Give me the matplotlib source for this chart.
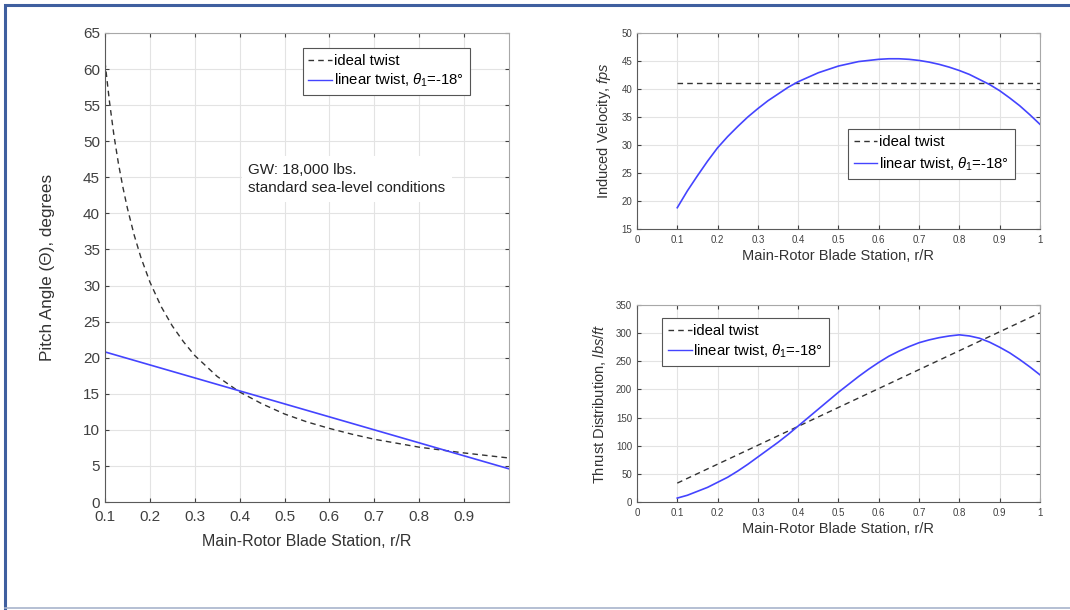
import matplotlib
matplotlib.use("Agg")
import matplotlib.pyplot as plt
from matplotlib.lines import Line2D
from matplotlib.patches import Rectangle

plt.rcParams['font.family'] = ['Liberation Sans', 'DejaVu Sans']
plt.rcParams['mathtext.fontset'] = 'custom'
plt.rcParams['mathtext.rm'] = 'Liberation Sans'
plt.rcParams['mathtext.it'] = 'Liberation Sans:italic'

# blade pitch vs. radial station
pitch_r = [0.1, 0.11, 0.12, 0.13, 0.14, 0.15, 0.165, 0.18, 0.2, 0.225, 0.25, 0.275,
           0.3, 0.35, 0.4, 0.45, 0.5, 0.55, 0.6, 0.65, 0.7, 0.8, 0.9, 1.0]
pitch_ideal = [61.0, 55.5, 50.8, 46.9, 43.6, 40.7, 37.0, 33.9, 30.5, 27.1, 24.4, 22.2,
               20.3, 17.4, 15.25, 13.6, 12.2, 11.1, 10.2, 9.4, 8.7, 7.6, 6.8, 6.1]
pitch_lin_r = [0.1, 1.0]
pitch_lin = [20.8, 4.6]

# induced velocity
vel_r = [0.1, 0.125, 0.15, 0.175, 0.2, 0.225, 0.25, 0.275, 0.3, 0.325, 0.35, 0.375,
         0.4, 0.425, 0.45, 0.475, 0.5, 0.525, 0.55, 0.575, 0.6, 0.625, 0.65, 0.675,
         0.7, 0.725, 0.75, 0.775, 0.8, 0.825, 0.85, 0.875, 0.9, 0.925, 0.95, 0.975, 1.0]
vel_lin = [18.8, 21.8, 24.5, 27.1, 29.5, 31.5, 33.3, 35.0, 36.5, 37.9, 39.1, 40.3,
           41.3, 42.1, 42.9, 43.5, 44.1, 44.5, 44.9, 45.1, 45.3, 45.4, 45.4, 45.3,
           45.1, 44.8, 44.4, 43.9, 43.3, 42.6, 41.7, 40.8, 39.7, 38.4, 37.0, 35.4, 33.7]
vel_ideal_r = [0.1, 1.0]
vel_ideal = [41.0, 41.0]

# thrust distribution
thr_r = vel_r
thr_lin = [7, 12, 19, 26, 35, 44, 55, 67, 80, 93, 106, 120,
           135, 150, 165, 180, 195, 209, 223, 236, 248, 259, 268, 276,
           283, 288, 292, 295, 297, 295, 291, 284, 275, 265, 253, 240, 226]
thr_ideal_r = [0.1, 1.0]
thr_ideal = [33.6, 336.0]

lin_label = r'linear twist, $\theta_1$=-18°'
ideal_color = '#333333'
lin_color = '#4444ff'
dash = (0, (4, 3))


def style_axes(ax, fs, pad):
    ax.grid(True, color='#e3e3e3', lw=0.8)
    ax.set_axisbelow(True)
    ax.tick_params(direction='in', top=True, right=True, labelsize=fs,
                   colors='#404040', length=3, width=0.8)
    ax.tick_params(axis='x', pad=pad)
    for side in ('left', 'bottom'):
        ax.spines[side].set_color('#5a5a5a')
    for side in ('top', 'right'):
        ax.spines[side].set_color('#a8a8a8')


def add_legend(ax, anchor, spacing):
    h = [Line2D([], [], color=ideal_color, lw=1.0, ls=dash),
         Line2D([], [], color=lin_color, lw=1.0)]
    leg = ax.legend(h, ['ideal twist', lin_label], loc='upper left',
                    bbox_to_anchor=anchor, fontsize=10.7,
                    fancybox=False, framealpha=1, edgecolor='#555555',
                    handlelength=1.6, handletextpad=0.1, borderpad=0.4,
                    labelspacing=spacing, borderaxespad=0)
    leg.get_frame().set_linewidth(0.8)
    return leg


fig = plt.figure(figsize=(10.7, 6.1), dpi=100)

# slide frame
fig.patches.append(Rectangle((0.0045, -0.01), 1.1, 1.001, transform=fig.transFigure,
                             fill=False, edgecolor='#3f5f9f', lw=2.2))
fig.lines.append(Line2D([0.005, 1.0], [0.003, 0.003], transform=fig.transFigure,
                        color='#a8b4cc', lw=1.2))

# left panel: pitch angle
ax1 = fig.add_axes([0.0981, 0.177, 0.3776, 0.769])
ax1.plot(pitch_r, pitch_ideal, color=ideal_color, lw=1.0, ls=dash)
ax1.plot(pitch_lin_r, pitch_lin, color=lin_color, lw=1.2)
ax1.set_xlim(0.1, 1.0)
ax1.set_ylim(0, 65)
ax1.set_xticks([0.1, 0.2, 0.3, 0.4, 0.5, 0.6, 0.7, 0.8, 0.9])
ax1.set_xticklabels(['0.1', '0.2', '0.3', '0.4', '0.5', '0.6', '0.7', '0.8', '0.9'])
ax1.set_yticks(range(0, 66, 5))
style_axes(ax1, 11, 6)
ax1.set_xlabel('Main-Rotor Blade Station, r/R', fontsize=11.5, color='#333333', labelpad=7)
ax1.set_ylabel('Pitch Angle (Θ), degrees', fontsize=12.3, color='#333333', labelpad=20)
add_legend(ax1, (0.489, 0.967), 0.25)
ax1.text(0.355, 0.688, 'GW: 18,000 lbs.\nstandard sea-level conditions',
         transform=ax1.transAxes, fontsize=11, color='#222222', va='center',
         linespacing=1.4,
         bbox=dict(facecolor='white', edgecolor='none', pad=5))

# top right: induced velocity
ax2 = fig.add_axes([0.5953, 0.6246, 0.3766, 0.3213])
ax2.plot(vel_ideal_r, vel_ideal, color=ideal_color, lw=1.0, ls=dash)
ax2.plot(vel_r, vel_lin, color=lin_color, lw=1.2)
ax2.set_xlim(0, 1)
ax2.set_ylim(15, 50)
ax2.set_xticks([i / 10 for i in range(11)])
ax2.set_xticklabels(['0', '0.1', '0.2', '0.3', '0.4', '0.5', '0.6', '0.7', '0.8', '0.9', '1'])
ax2.set_yticks(range(15, 51, 5))
style_axes(ax2, 7, 4)
ax2.set_xlabel('Main-Rotor Blade Station, r/R', fontsize=10.5, color='#333333', labelpad=3)
ax2.set_ylabel('Induced Velocity, $\\mathit{fps}$', fontsize=10.5, color='#333333', labelpad=6)
add_legend(ax2, (0.523, 0.51), 0.42)

# bottom right: thrust distribution
ax3 = fig.add_axes([0.5953, 0.177, 0.3766, 0.323])
ax3.plot(thr_ideal_r, thr_ideal, color=ideal_color, lw=1.0, ls=dash)
ax3.plot(thr_r, thr_lin, color=lin_color, lw=1.2)
ax3.set_xlim(0, 1)
ax3.set_ylim(0, 350)
ax3.set_xticks([i / 10 for i in range(11)])
ax3.set_xticklabels(['0', '0.1', '0.2', '0.3', '0.4', '0.5', '0.6', '0.7', '0.8', '0.9', '1'])
ax3.set_yticks(range(0, 351, 50))
style_axes(ax3, 7, 4)
ax3.set_xlabel('Main-Rotor Blade Station, r/R', fontsize=10.5, color='#333333', labelpad=3)
ax3.set_ylabel('Thrust Distribution, $\\mathit{lbs/ft}$', fontsize=10.5, color='#333333', labelpad=6)
add_legend(ax3, (0.062, 0.935), 0.3)

fig.savefig('out.png', dpi=100)
